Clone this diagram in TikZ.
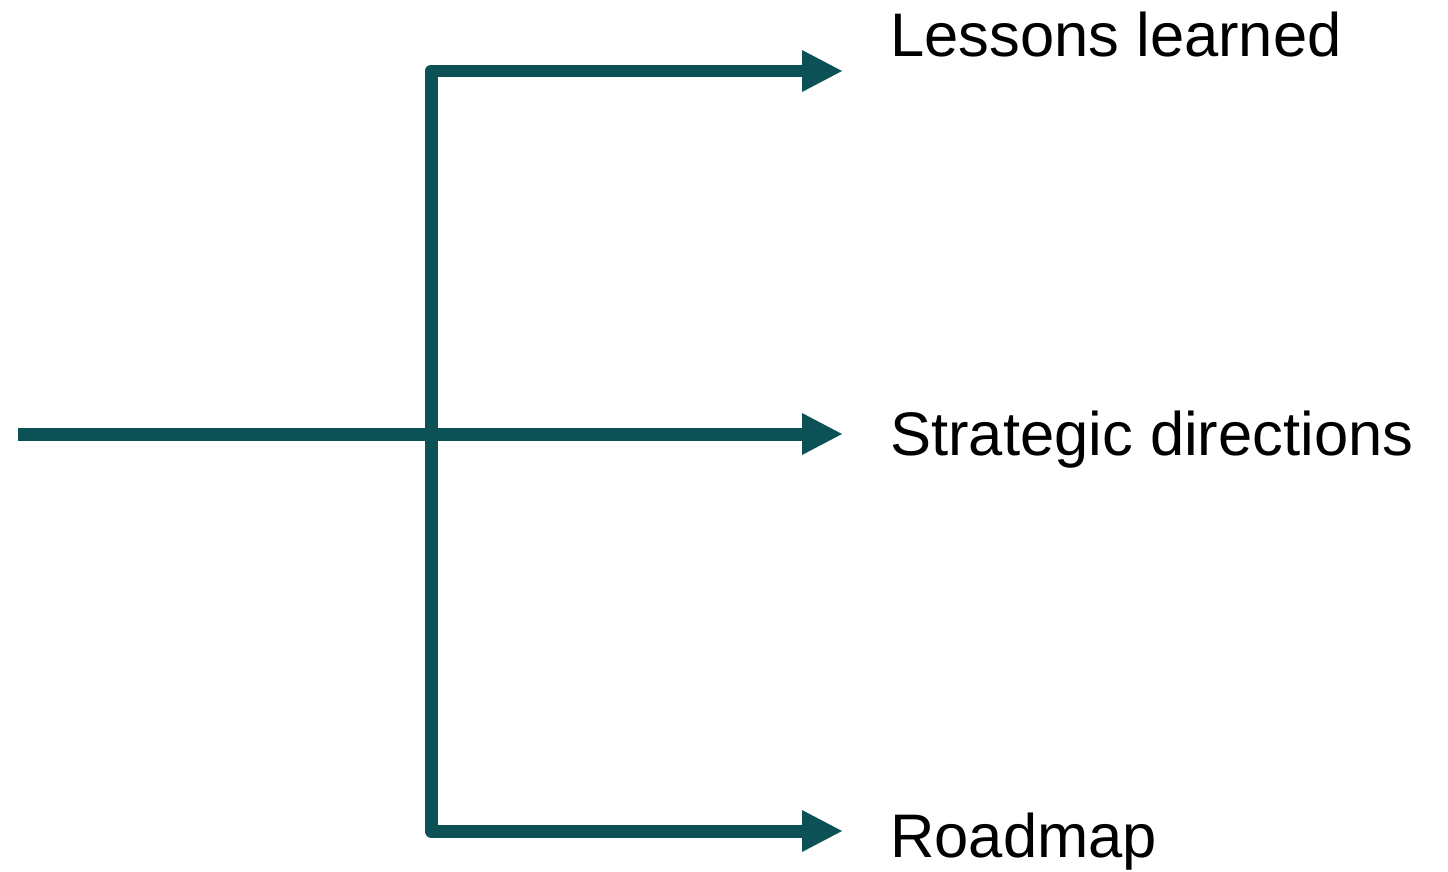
\documentclass[tikz,border=0pt]{standalone}
\usepackage{fontspec}
\setmainfont{Liberation Sans}
\usetikzlibrary{arrows.meta,positioning}
\definecolor{flowteal}{HTML}{0B5156}

\begin{document}
\begin{tikzpicture}[x=0.02cm,y=-0.02cm,
    flow/.style={draw=flowteal,line width=0.26cm,line join=round},
    branch/.style={flow,-{Triangle[length=0.8cm,width=0.84cm,line width=0pt]}},
    label node/.style={anchor=base west,inner sep=0pt,font=\fontsize{35}{41}\selectfont}]
    \useasboundingbox (0,0) rectangle (1448,872);
    \coordinate (in) at (18,434);
    \coordinate (hub) at (431,434);
    \coordinate (t1) at (842,71);
    \coordinate (t2) at (842,434);
    \coordinate (t3) at (842,831);
    \node[label node] (lessons) at (890,56) {Lessons learned};
    \node[label node] (strategic) at (890,455) {Strategic directions};
    \node[label node] (roadmap) at (890,857) {Roadmap};

    \draw[flow] (in) -- (hub);
    \draw[branch] (hub) |- (t1);
    \draw[branch] (hub) -- (t2);
    \draw[branch] (hub) |- (t3);
\end{tikzpicture}
\end{document}
